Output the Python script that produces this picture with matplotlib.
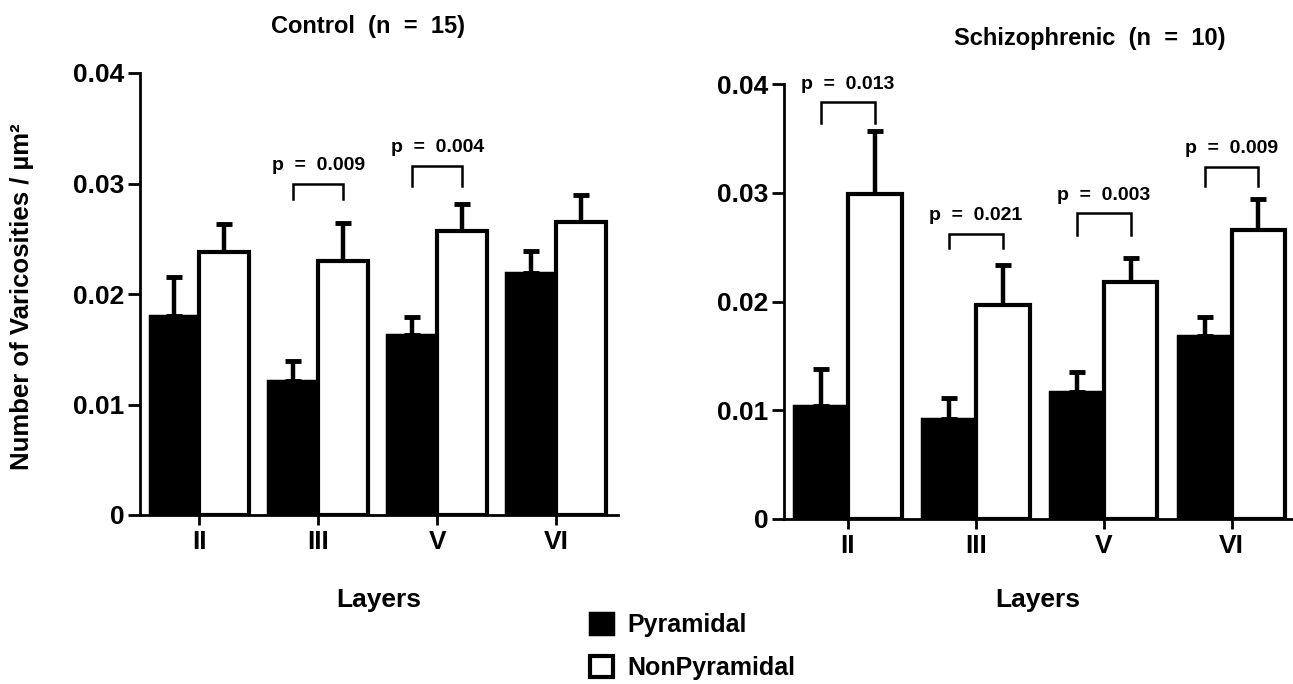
import matplotlib
matplotlib.use("Agg")
import matplotlib.pyplot as plt
import numpy as np

plt.rcParams["font.family"] = ["Liberation Sans", "DejaVu Sans"]
plt.rcParams["font.weight"] = "bold"

layers = ["II", "III", "V", "VI"]

control_pyr = [0.0180, 0.0121, 0.0163, 0.0219]
control_pyr_err = [0.0035, 0.0018, 0.0016, 0.0020]
control_non = [0.0238, 0.0230, 0.0257, 0.0265]
control_non_err = [0.0025, 0.0034, 0.0024, 0.0025]

schiz_pyr = [0.0104, 0.0092, 0.0117, 0.0168]
schiz_pyr_err = [0.0034, 0.0019, 0.0018, 0.0018]
schiz_non = [0.0299, 0.0197, 0.0218, 0.0266]
schiz_non_err = [0.0058, 0.0037, 0.0022, 0.0028]

# p-value brackets: (layer index, label, bracket top, leg bottom)
control_p = [(1, "p  =  0.009", 0.0300, 0.0286),
             (2, "p  =  0.004", 0.0316, 0.0298)]
schiz_p = [(0, "p  =  0.013", 0.0383, 0.0364),
           (1, "p  =  0.021", 0.0262, 0.0249),
           (2, "p  =  0.003", 0.0281, 0.0261),
           (3, "p  =  0.009", 0.0324, 0.0306)]

W, H = 1293, 684
fig = plt.figure(figsize=(W / 100, H / 100), dpi=100)

ax1 = fig.add_axes([140 / W, 1 - 515 / H, (618 - 140) / W, (515 - 73) / H])
ax2 = fig.add_axes([784 / W, 1 - 519 / H, (1293 - 784) / W, (519 - 84) / H])

width = 0.42


def draw_panel(ax, pyr, pyr_err, non, non_err, pvals, xmax):
    x = np.arange(len(layers))
    b1 = ax.bar(x - width / 2, pyr, width, color="black", edgecolor="black",
                linewidth=2.5, zorder=2)
    b2 = ax.bar(x + width / 2, non, width, color="white", edgecolor="black",
                linewidth=3, zorder=2)
    ax.errorbar(x - width / 2, pyr, yerr=[np.zeros(len(pyr)), pyr_err], fmt="none",
                ecolor="black", elinewidth=3.2, capsize=6, capthick=3.5, zorder=1)
    ax.errorbar(x + width / 2, non, yerr=[np.zeros(len(non)), non_err], fmt="none",
                ecolor="black", elinewidth=3.2, capsize=6, capthick=3.5, zorder=1)
    for i, label, top, bottom in pvals:
        xl, xr = i - width / 2, i + width / 2
        ax.plot([xl, xl, xr, xr], [bottom, top, top, bottom], color="black",
                lw=1.8, solid_joinstyle="miter", clip_on=False)
        ax.text(i, top + 0.0009, label, ha="center", va="bottom",
                fontsize=14, fontweight="bold", clip_on=False)

    ax.set_xlim(-0.5, xmax)
    ax.set_ylim(0, 0.04)
    ax.set_xticks(x)
    ax.set_xticklabels(layers)
    ax.set_yticks([0, 0.01, 0.02, 0.03, 0.04])
    ax.set_yticklabels(["0", "0.01", "0.02", "0.03", "0.04"])
    for s in ["top", "right"]:
        ax.spines[s].set_visible(False)
    for s in ["left", "bottom"]:
        ax.spines[s].set_linewidth(2)
    ax.tick_params(axis="both", width=2, labelsize=19, direction="out")
    ax.tick_params(axis="y", length=9, pad=2)
    ax.tick_params(axis="x", length=7, pad=4)
    for lab in ax.get_xticklabels() + ax.get_yticklabels():
        lab.set_fontweight("bold")
    return b1, b2


b1, b2 = draw_panel(ax1, control_pyr, control_pyr_err, control_non, control_non_err,
                    control_p, 3.52)
draw_panel(ax2, schiz_pyr, schiz_pyr_err, schiz_non, schiz_non_err, schiz_p, 3.48)

fig.text(368 / W, 1 - 27 / H, "Control  (n  =  15)", ha="center", va="center",
         fontsize=17, fontweight="bold")
fig.text(1090 / W, 1 - 38 / H, "Schizophrenic  (n  =  10)", ha="center", va="center",
         fontsize=17, fontweight="bold")
fig.text(22 / W, 1 - 297 / H, "Number of Varicosities / µm²", rotation=90,
         ha="center", va="center", fontsize=18.5, fontweight="bold")
fig.text(379 / W, 1 - 600 / H, "Layers", ha="center", va="center",
         fontsize=19, fontweight="bold")
fig.text(1038 / W, 1 - 600 / H, "Layers", ha="center", va="center",
         fontsize=19, fontweight="bold")

fig.legend([b1, b2], ["Pyramidal", "NonPyramidal"], loc="upper left",
           bbox_to_anchor=(577 / W, 1 - 600 / H), frameon=False,
           prop={"size": 18, "weight": "bold"}, handlelength=0.95, handleheight=0.95,
           handletextpad=0.55, labelspacing=0.75, borderpad=0)

fig.savefig("out.png", dpi=100)
